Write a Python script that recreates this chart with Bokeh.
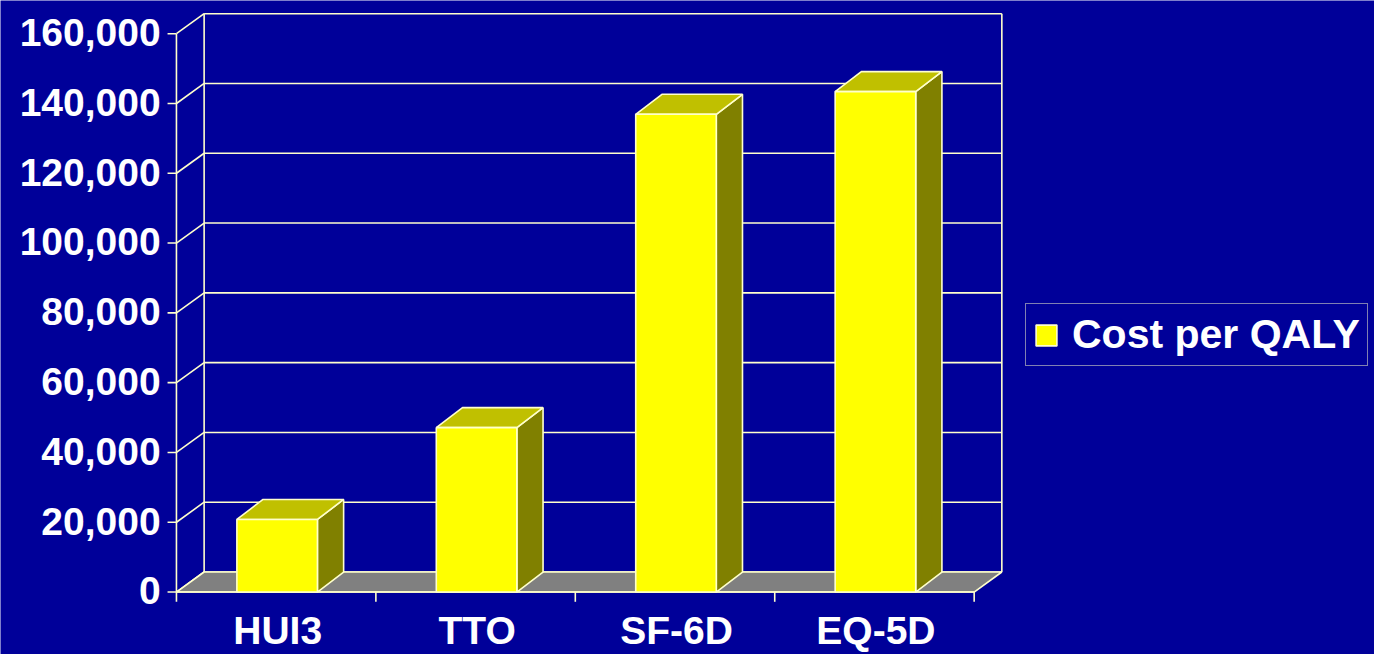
from bokeh.plotting import figure
from bokeh.models import Range1d, Legend, LegendItem
from bokeh.core.properties import value
from bokeh.embed import file_html
from bokeh.resources import INLINE

# ---- data ----
categories = ["HUI3", "TTO", "SF-6D", "EQ-5D"]
cost_per_qaly = [20800, 47100, 136900, 143400]
y_ticks = [0, 20000, 40000, 60000, 80000, 100000, 120000, 140000, 160000]
y_tick_labels = ["0", "20,000", "40,000", "60,000", "80,000",
                 "100,000", "120,000", "140,000", "160,000"]
series_name = "Cost per QALY"

# ---- styles / geometry ----
NAVY = "#000099"
CREAM = "#FFFFCC"
FRONT = "#FFFF00"
TOP = "#C0C000"
SIDE = "#808000"
FLOOR = "#808080"
FONT_NAME = "Liberation Sans"
FONT = value(FONT_NAME)

W, H = 1374, 654
REF_W, REF_H = 1390, 670          # design size the layout is measured in
SX, SY = W / REF_W, H / REF_H
PX_X = 201.75                     # design px per category slot
PX_Y = 71.5 / 20000.0             # design px per value unit
ORIGIN_X = 178                    # design px of x = 0 from the left
ORIGIN_Y = 606                    # design px of y = 0 from the top


def dx(px):
    return px / PX_X


def dy(px):
    return px / PX_Y


p = figure(width=W, height=H,
           x_range=Range1d(dx(-ORIGIN_X), dx(REF_W - ORIGIN_X)),
           y_range=Range1d(dy(-(REF_H - ORIGIN_Y)), dy(ORIGIN_Y)),
           x_axis_type=None, y_axis_type=None,
           output_backend="svg", toolbar_location=None,
           min_border=0, background_fill_color=NAVY,
           border_fill_color=NAVY, outline_line_color=None)

n = len(categories)
y_max = y_ticks[-1]
WDX, WDY = dx(28), dy(20.5)     # wall depth
BDX, BDY = dx(26.5), dy(20.5)   # bar depth
LW = 1.6
FS = "39px"

# back wall gridlines
p.segment(x0=[WDX] * len(y_ticks), y0=[t + WDY for t in y_ticks],
          x1=[n + WDX] * len(y_ticks), y1=[t + WDY for t in y_ticks],
          line_color=CREAM, line_width=LW)
# side wall gridlines (diagonals)
p.segment(x0=[0] * len(y_ticks), y0=y_ticks,
          x1=[WDX] * len(y_ticks), y1=[t + WDY for t in y_ticks],
          line_color=CREAM, line_width=LW)
# back wall vertical edges
p.segment(x0=[WDX, n + WDX], y0=[WDY, WDY], x1=[WDX, n + WDX],
          y1=[y_max + WDY, y_max + WDY], line_color=CREAM, line_width=LW)

# floor
p.patch(x=[0, n, n + WDX, WDX], y=[0, 0, WDY, WDY],
        fill_color=FLOOR, line_color=CREAM, line_width=LW)

# value axis
p.segment(x0=[0], y0=[0], x1=[0], y1=[y_max], line_color=CREAM, line_width=LW)
p.segment(x0=[dx(-9)] * len(y_ticks), y0=y_ticks, x1=[0] * len(y_ticks),
          y1=y_ticks, line_color=CREAM, line_width=LW)
p.text(x=[dx(-16)] * len(y_ticks), y=[t + dy(1.2) for t in y_ticks],
       text=y_tick_labels, text_align="right", text_baseline="middle",
       text_color="white", text_font=FONT, text_font_size=FS,
       text_font_style="bold")

# category axis
p.segment(x0=[0], y0=[0], x1=[n], y1=[0], line_color=CREAM, line_width=LW)
p.segment(x0=list(range(n + 1)), y0=[0] * (n + 1), x1=list(range(n + 1)),
          y1=[dy(-10)] * (n + 1), line_color=CREAM, line_width=LW)
p.text(x=[i + 0.5 + dx(1.5) for i in range(n)], y=[dy(-39)] * n,
       text=categories, text_align="center", text_baseline="middle",
       text_color="white", text_font=FONT, text_font_size=FS,
       text_font_style="bold")

# bars
bw = dx(81.5)
lefts = [i + 0.5 + dx(1) - bw / 2 for i in range(n)]
rights = [l + bw for l in lefts]

side_xs = [[r, r + BDX, r + BDX, r] for r in rights]
side_ys = [[0, BDY, v + BDY, v] for v in cost_per_qaly]
p.patches(xs=side_xs, ys=side_ys, fill_color=SIDE, line_color=CREAM,
          line_width=LW)

top_xs = [[l, r, r + BDX, l + BDX] for l, r in zip(lefts, rights)]
top_ys = [[v, v, v + BDY, v + BDY] for v in cost_per_qaly]
p.patches(xs=top_xs, ys=top_ys, fill_color=TOP, line_color=CREAM,
          line_width=LW)

front = p.quad(left=lefts, right=rights, bottom=[0] * n, top=cost_per_qaly,
               fill_color=FRONT, line_color=CREAM, line_width=LW)

# legend: location is (left, bottom) in screen px from the frame's bottom-left
legend = Legend(items=[LegendItem(label=series_name, renderers=[front])],
                location=(1025, 288),
                orientation="vertical",
                label_text_font=FONT_NAME, label_text_font_size="41px",
                label_text_font_style="bold", label_text_color="white",
                glyph_width=26, glyph_height=26, label_standoff=13,
                padding=7, spacing=0, margin=0,
                border_line_color=CREAM, border_line_width=1.5,
                background_fill_color=NAVY, background_fill_alpha=1.0)
p.add_layout(legend)

html = file_html(p, INLINE)
html = html.replace("<body>", '<body style="background-color:#000099">', 1)
open("out.html", "w").write(html)
